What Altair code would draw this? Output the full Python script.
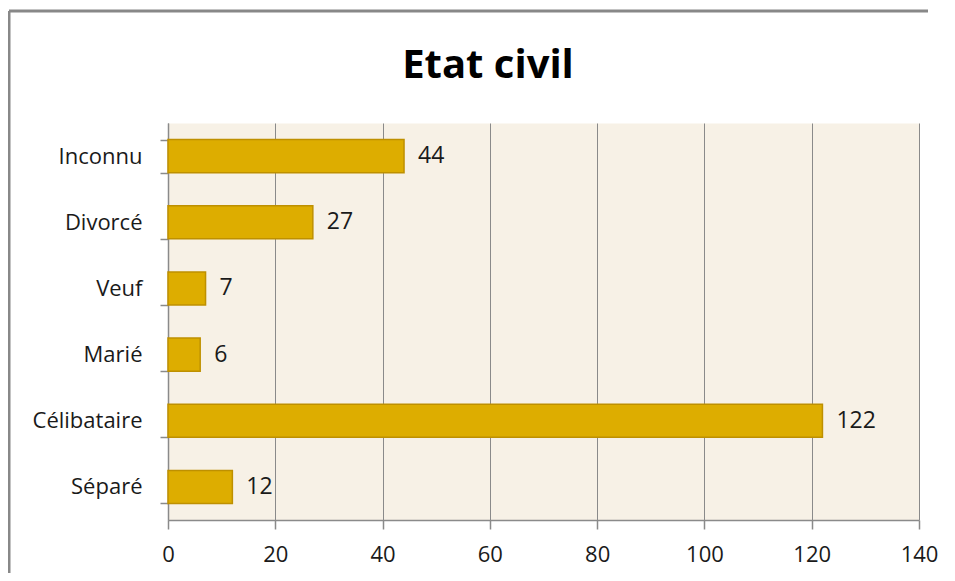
import altair as alt
import pandas as pd

categories = ["Inconnu", "Divorcé", "Veuf", "Marié", "Célibataire", "Séparé"]
values = [44, 27, 7, 6, 122, 12]
x_ticks = [0, 20, 40, 60, 80, 100, 120, 140]
title_text = ["Etat civil"]

df = pd.DataFrame({"cat": categories, "val": values})
FONT = "Open Sans"

y_enc = alt.Y(
    "cat:N", sort=categories, title=None,
    scale=alt.Scale(paddingInner=0.5, paddingOuter=0.25),
    axis=alt.Axis(tickBand="extent", labelFontSize=22, labelPadding=18, tickSize=8,
                  domainColor="#8a8a8a", tickColor="#8a8a8a", domainWidth=1.5, tickWidth=1.5,
                  labelColor="#1a1a1a", labelFont=FONT, grid=False),
)
x_enc = alt.X(
    "val:Q", title=None,
    scale=alt.Scale(domain=[0, 140], nice=False, zero=True),
    axis=alt.Axis(values=x_ticks, grid=True, gridColor="#8a8a8a", gridWidth=1,
                  domainColor="#8a8a8a", tickColor="#8a8a8a", domainWidth=1.5, tickWidth=1.5,
                  tickSize=9, labelFontSize=22, labelPadding=15, labelFont=FONT,
                  labelColor="#1a1a1a", labelFlush=False),
)

bars = alt.Chart(df).mark_bar(color="#DDAD00", stroke="#BE9000", strokeWidth=1.5).encode(x=x_enc, y=y_enc)
labels = alt.Chart(df).mark_text(align="left", baseline="middle", dx=14, fontSize=23, font=FONT,
                                 color="#1a1a1a").encode(
    x="val:Q", y=alt.Y("cat:N", sort=categories), text="val:Q")

one = pd.DataFrame({"t": title_text})
frame_left = alt.Chart(one).mark_rule(color="#888888", strokeWidth=3).encode(
    x=alt.value(-159), y=alt.value(-112), y2=alt.value(500))
frame_top = alt.Chart(one).mark_rule(color="#888888", strokeWidth=3).encode(
    x=alt.value(-159), x2=alt.value(760), y=alt.value(-112))
title = alt.Chart(one).mark_text(fontSize=40, fontWeight="bold", font=FONT, align="center",
                                 baseline="alphabetic", color="#000000").encode(
    x=alt.value(320), y=alt.value(-45), text="t:N")

chart = alt.layer(bars, labels, frame_left, frame_top, title).properties(
    width=751, height=397,
    autosize=alt.AutoSizeParams(type="none"),
    padding={"left": 160, "top": 115, "right": 28, "bottom": 53},
    background="white",
).configure_view(fill="#F7F1E6", stroke="transparent")

chart.save("out.html", embed_options={"renderer": "svg", "actions": False})
